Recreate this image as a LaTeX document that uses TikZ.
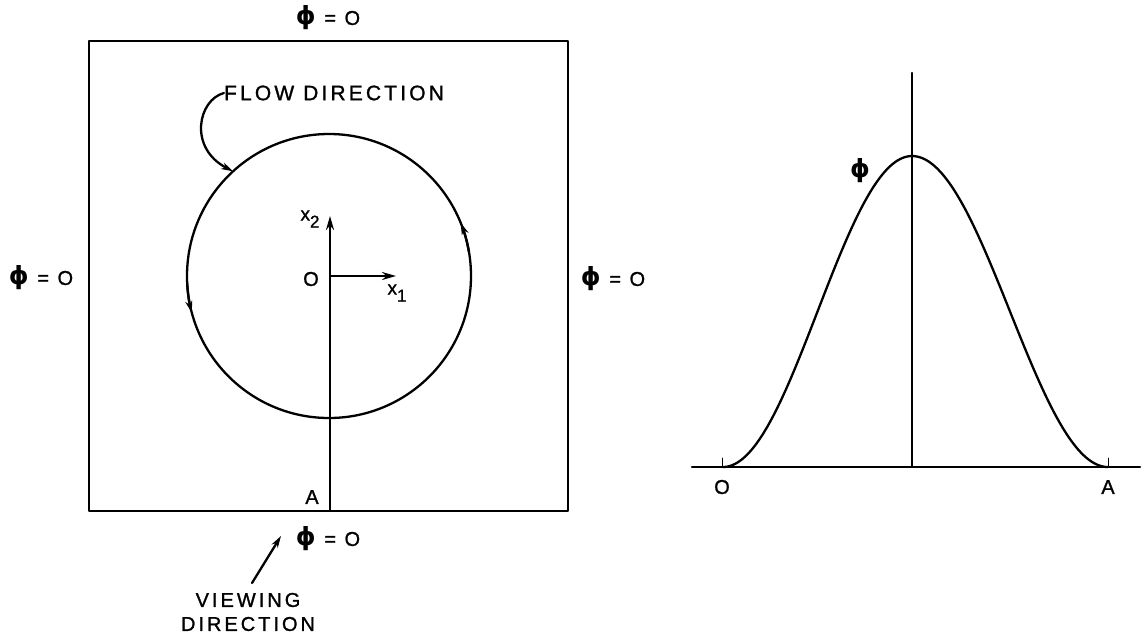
\documentclass[tikz,border=0pt]{standalone}
\usepackage{fontspec}
\setmainfont{Liberation Sans}
\newfontfamily\lettering{Liberation Sans}[LetterSpace=15,FakeBold=1.2]
\newfontfamily\phifont{DejaVu Sans Bold}
\usetikzlibrary{arrows.meta,calc}
\newcommand{\Phisym}{{\phifont\fontsize{25}{25}\selectfont ϕ}}
\begin{document}
\begin{tikzpicture}[x=1pt,y=-1pt,
  lbl/.style={inner sep=0pt,font=\lettering\fontsize{20}{22}\selectfont},
  sml/.style={inner sep=0pt,font=\lettering\fontsize{19}{21}\selectfont},
  heavy/.style={line width=2.3pt},
  tipA/.style={-{Stealth[length=14pt,width=8pt]}},
  tipB/.style={-{Stealth[length=12pt,width=7pt]}},
  line cap=round, line join=round]
\useasboundingbox (0,0) rectangle (1146,641);
% ---------------- left panel ----------------
\coordinate (sqTL) at (89,41);
\coordinate (sqBR) at (568,511);
\draw[heavy] (sqTL) rectangle (sqBR);
\coordinate (c) at (329,276);
\draw[heavy] (c) circle[radius=142];
% flow arrowheads on the circle
\draw[heavy,tipB] (c) ++(-10:142) arc[start angle=-10,end angle=-22,radius=142];
\draw[heavy,tipB] (c) ++(177:142) arc[start angle=177,end angle=165,radius=142];
% axes
\coordinate (Abot) at (330,511);
\coordinate (x2tip) at (330,216);
\coordinate (O) at (330,276);
\coordinate (x1tip) at (396,276);
\draw[heavy,tipA] (Abot) -- (x2tip);
\draw[heavy,tipA] (O) -- (x1tip);
\node[sml] (x2lbl) at (310,219) {x\raisebox{-7pt}{\fontsize{17}{19}\selectfont 2}};
\node[lbl] (Olbl) at (311,279) {O};
\node[sml] (x1lbl) at (397,293) {x\raisebox{-7pt}{\fontsize{17}{19}\selectfont 1}};
\node[lbl] (Albl) at (312,497) {A};
% phi = 0 labels
\node[lbl] (phiT) at (328,18) {\Phisym\ = O};
\node[lbl] (phiL) at (41,278) {\Phisym\ = O};
\node[lbl] (phiR) at (613,279) {\Phisym\ = O};
\node[lbl] (phiB) at (328,539) {\Phisym\ = O};
% flow direction
\node[lbl,font=\lettering\fontsize{21}{23}\selectfont] (flow) at (334,93) {FLOW DIRECTION};
\coordinate (fd) at ($(c)+(-132.5:142)$);
\draw[heavy,tipB] (flow.west) .. controls (198,100) and (188,148) .. (fd);
% viewing direction
\node[lbl,align=center] (view) at (248,612) {VIEWING\\[2pt]DIRECTION};
\coordinate (vtail) at (252,583);
\coordinate (vtip) at (281,536);
\draw[heavy,tipB] (vtail) -- (vtip);
% ---------------- right panel ----------------
\coordinate (hL) at (692,467);
\coordinate (hR) at (1140,467);
\coordinate (vB) at (912,467);
\coordinate (vT) at (912,73);
\draw[heavy] (hL) -- (hR);
\draw[heavy] (vB) -- (vT);
\draw[heavy] plot[domain=-189:0,samples=80,smooth] ({912+\x},{467-311*pow(cos(\x/189*90),2)})
  -- plot[domain=0:196,samples=80,smooth] ({912+\x},{467-311*pow(cos(\x/196*90),2)});
\coordinate (tO) at (722,458);
\coordinate (tO2) at (722,467);
\coordinate (tA) at (1108,458);
\coordinate (tA2) at (1108,467);
\draw[line width=1pt] (tO) -- (tO2);
\draw[line width=1pt] (tA) -- (tA2);
\node[lbl] (O2) at (722,487) {O};
\node[lbl] (A2) at (1108,487) {A};
\node[lbl] (phiG) at (860,171) {\Phisym};
\end{tikzpicture}
\end{document}
